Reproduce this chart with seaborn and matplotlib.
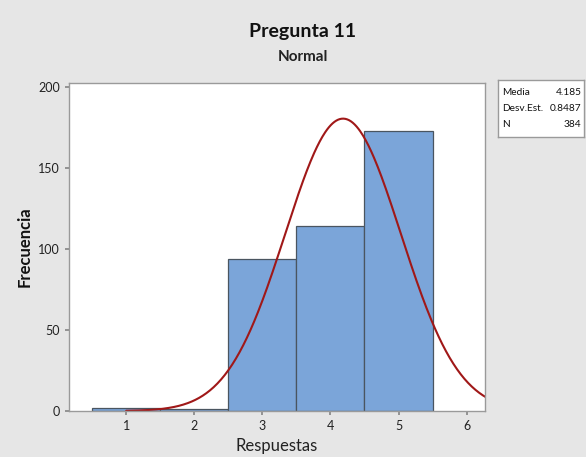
import numpy as np
import pandas as pd
import matplotlib
matplotlib.use("Agg")
import matplotlib.pyplot as plt
import seaborn as sns

respuestas = [1, 2, 3, 4, 5]
frecuencias = [2, 1, 94, 114, 173]
media = 4.185
desv = 0.8487
n_total = 384
x_ticks = [1, 2, 3, 4, 5, 6]
y_ticks = [0, 50, 100, 150, 200]

sns.set_theme(style="white")
plt.rcParams['font.family'] = ['Lato', 'DejaVu Sans']

df = pd.DataFrame({"Respuestas": respuestas, "Frecuencia": frecuencias})

fig = plt.figure(figsize=(5.86, 4.57), dpi=100)
fig.patch.set_facecolor("#e6e6e6")
ax = fig.add_axes([69/586, 1 - 411/457, (485-69)/586, (411-83)/457])
ax.set_facecolor("white")

sns.histplot(data=df, x="Respuestas", weights="Frecuencia", discrete=True,
             color="#7ba5d9", edgecolor="#4a5560", linewidth=0.9, alpha=1.0, ax=ax)

xs = np.linspace(1, 6.4, 400)
ys = n_total * 1.0 / (desv * np.sqrt(2 * np.pi)) * np.exp(-0.5 * ((xs - media) / desv) ** 2)
sns.lineplot(x=xs, y=ys, color="#a01818", linewidth=1.5, ax=ax)

ax.set_xlim(0.16, 6.27)
ax.set_ylim(0, 202.5)
ax.set_xticks(x_ticks)
ax.set_yticks(y_ticks)
ax.tick_params(axis="both", length=3, color="#888888", labelsize=9, labelcolor="#222222", direction="out", bottom=True, left=True)
for s in ax.spines.values():
    s.set_color("#9a9a9a")
    s.set_linewidth(1.0)

ax.set_xlabel("Respuestas", fontsize=12, color="#222222", labelpad=4)
ax.set_ylabel("Frecuencia", fontsize=12, fontweight="bold", color="#111111", labelpad=4)

fig.text(303/586, 1 - 32/457, "Pregunta 11", ha="center", va="center", fontsize=14, fontweight="bold", color="#111111")
fig.text(303/586, 1 - 57/457, "Normal", ha="center", va="center", fontsize=11, fontweight="bold", color="#222222")

# stats box
box = fig.add_axes([498/586, 1 - 137/457, (584-498)/586, (137-80)/457])
box.set_xticks([]); box.set_yticks([])
box.set_facecolor("white")
for s in box.spines.values():
    s.set_color("#9a9a9a")
    s.set_linewidth(1.0)
labels = ["Media", "Desv.Est.", "N"]
vals = [f"{media:.3f}", f"{desv:.4f}", f"{n_total}"]
for i, (l, v) in enumerate(zip(labels, vals)):
    yy = 0.78 - i * 0.28
    box.text(0.05, yy, l, transform=box.transAxes, fontsize=7.3, ha="left", va="center", color="#111111")
    box.text(0.97, yy, v, transform=box.transAxes, fontsize=7.3, ha="right", va="center", color="#111111")

fig.savefig("out.png", dpi=100, facecolor=fig.get_facecolor())
